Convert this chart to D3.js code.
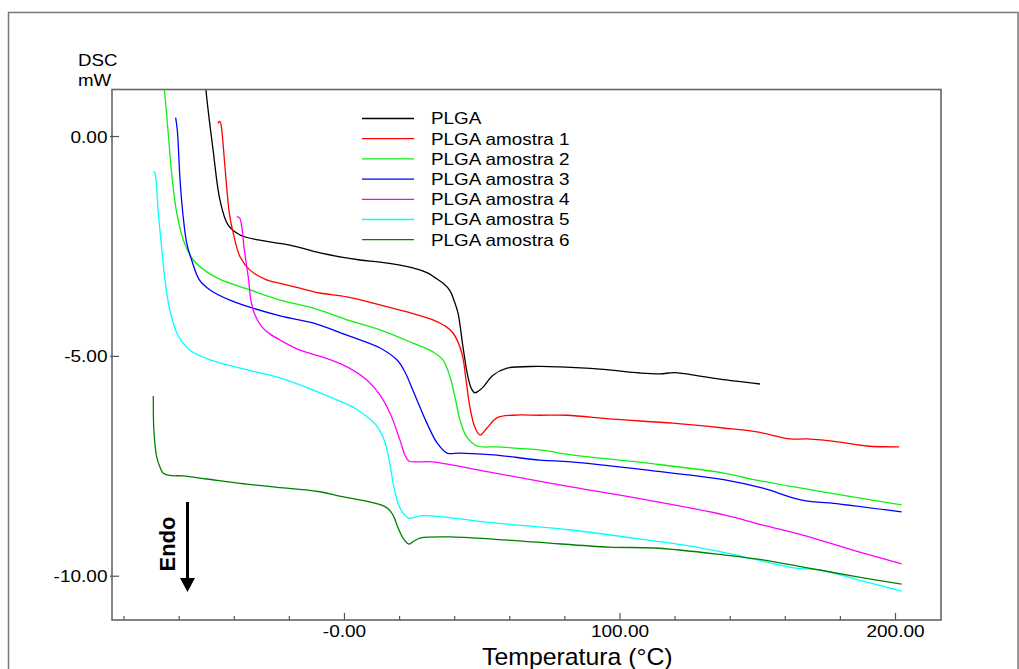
<!DOCTYPE html>
<html>
<head>
<meta charset="utf-8">
<script src="https://cdn.jsdelivr.net/npm/d3@7"></script>
<style>
  body { margin: 0; background: #fff; }
  text { font-family: "Liberation Sans", Arial, sans-serif; fill: #000; }
</style>
</head>
<body>
<div id="visualization"></div>
<script>
// DSC curves, temperature (°C) vs heat flow (mW)
const plga = [[-50.8,1.73],[-50.1,1.05],[-47.5,-0.32],[-45.0,-1.46],[-42.1,-2.02],[-37.7,-2.25],[-30.5,-2.37],[-19.6,-2.48],[-8.7,-2.66],[5.8,-2.82],[13.1,-2.87],[25.0,-3.00],[30.5,-3.12],[33.0,-3.22],[36.0,-3.35],[38.5,-3.52],[40.0,-3.75],[41.4,-4.03],[43.2,-4.80],[45.0,-5.48],[46.3,-5.75],[47.5,-5.84],[48.8,-5.80],[50.5,-5.71],[54.1,-5.44],[59.2,-5.28],[70,-5.24],[78.4,-5.25],[92.9,-5.30],[107.4,-5.39],[114.7,-5.41],[120.1,-5.38],[129.2,-5.46],[136.5,-5.53],[151.0,-5.64]];
const amostra1 = [[-45.8,0.29],[-45.0,0.33],[-44.5,0.21],[-43.8,-0.24],[-42.8,-1.00],[-41.6,-1.76],[-40.2,-2.21],[-37.7,-2.75],[-34.1,-3.05],[-28.1,-3.27],[-23.2,-3.35],[-16.0,-3.46],[-8.7,-3.57],[1.1,-3.66],[13.1,-3.84],[22.9,-4.00],[32.3,-4.18],[36.7,-4.32],[39.6,-4.48],[42.8,-4.94],[44.3,-5.55],[45.7,-6.16],[47.5,-6.62],[49.4,-6.80],[51.9,-6.64],[55.5,-6.41],[61.3,-6.35],[71.1,-6.35],[80.9,-6.35],[97.6,-6.44],[119.4,-6.53],[137.6,-6.64],[149.9,-6.73],[161.9,-6.89],[168.1,-6.89],[180.0,-6.96],[189.8,-7.05],[201.5,-7.07]];
const amostra2 = [[-66.1,1.73],[-65.2,1.05],[-64.4,0.52],[-63.4,-0.24],[-62.3,-1.00],[-60.7,-1.75],[-58.3,-2.37],[-54.7,-2.82],[-49.8,-3.09],[-45.0,-3.26],[-34.1,-3.50],[-23.2,-3.73],[-11.3,-3.91],[1.1,-4.18],[13.1,-4.41],[25.0,-4.71],[32.3,-4.91],[35.9,-5.09],[38.5,-5.48],[40.3,-5.94],[42.1,-6.46],[44.6,-6.85],[48.3,-7.05],[55.5,-7.07],[71.1,-7.14],[82.4,-7.25],[110.3,-7.44],[138.3,-7.67],[149.2,-7.82],[166.2,-8.01],[186.9,-8.23],[202.4,-8.39]];
const amostra3 = [[-61.1,0.42],[-60.5,0.14],[-59.5,-1.00],[-58.5,-1.75],[-57.1,-2.43],[-55.3,-2.82],[-52.5,-3.27],[-48.6,-3.50],[-41.4,-3.73],[-23.2,-4.09],[-11.3,-4.25],[1.1,-4.53],[13.1,-4.82],[19.2,-5.09],[22.0,-5.35],[25.0,-5.78],[30.1,-6.53],[33.8,-6.98],[37.4,-7.21],[42.1,-7.21],[54.4,-7.25],[71.1,-7.37],[82.4,-7.41],[110.3,-7.60],[138.3,-7.82],[152.1,-8.01],[166.2,-8.28],[180.0,-8.37],[202.4,-8.55]];
const amostra4 = [[-38.9,-1.84],[-38.0,-1.85],[-37.1,-2.06],[-36.3,-2.52],[-35.3,-2.97],[-34.6,-3.27],[-33.8,-3.73],[-32.3,-4.07],[-29.8,-4.34],[-26.9,-4.50],[-23.2,-4.64],[-16.0,-4.87],[-7.6,-5.03],[1.1,-5.25],[8.3,-5.55],[13.1,-5.89],[16.7,-6.30],[20.3,-6.91],[22.1,-7.25],[23.6,-7.39],[31.9,-7.41],[54.4,-7.66],[82.4,-7.98],[110.3,-8.28],[138.3,-8.62],[152.1,-8.85],[166.2,-9.07],[186.9,-9.46],[202.4,-9.73]];
const amostra5 = [[-69.2,-0.80],[-68.6,-0.85],[-67.4,-1.76],[-66.2,-2.52],[-65.0,-3.27],[-63.2,-3.96],[-60.3,-4.53],[-55.9,-4.87],[-48.6,-5.09],[-37.7,-5.28],[-23.2,-5.50],[-8.7,-5.84],[-1.5,-6.03],[4.0,-6.19],[8.0,-6.37],[11.6,-6.57],[13.8,-6.80],[15.2,-7.03],[16.7,-7.48],[18.1,-7.98],[19.6,-8.35],[21.4,-8.57],[23.6,-8.69],[27.6,-8.64],[31.9,-8.64],[54.4,-8.80],[82.4,-8.96],[110.3,-9.19],[129.8,-9.37],[145.2,-9.57],[163.3,-9.82],[173.1,-9.87],[186.9,-10.10],[202.4,-10.35]];
const amostra6 = [[-69.2,-5.91],[-69.0,-6.69],[-68.0,-7.29],[-66.8,-7.53],[-65.6,-7.67],[-63.2,-7.72],[-58.3,-7.73],[-49.8,-7.80],[-37.7,-7.90],[-25.8,-7.98],[-8.7,-8.09],[-1.5,-8.19],[15.2,-8.44],[17.8,-8.62],[19.5,-8.89],[21.4,-9.14],[23.6,-9.28],[25.4,-9.21],[27.9,-9.14],[40.3,-9.12],[68.2,-9.23],[96.2,-9.35],[112.9,-9.37],[138.3,-9.53],[152.1,-9.64],[166.2,-9.80],[186.9,-10.03],[202.4,-10.19]];

const seriesNames = ["PLGA", "PLGA amostra 1", "PLGA amostra 2", "PLGA amostra 3", "PLGA amostra 4", "PLGA amostra 5", "PLGA amostra 6"];
const seriesColors = ["#000000", "#ff0000", "#11ee11", "#0000ff", "#ff00ff", "#00ffff", "#008000"];
const seriesData = [plga, amostra1, amostra2, amostra3, amostra4, amostra5, amostra6];

const xMajorTicks = [0, 100, 200];
const xMinorTicks = [-80, -60, -40, -20, 20, 40, 60, 80, 120, 140, 160, 180];
const yTicks = [0, -5, -10];

function drawChart() {
    const width = 1019;
    const height = 669;
    const plot = { left: 112, right: 941, top: 89.5, bottom: 620 };

    const svg = d3.select("#visualization")
        .append("svg")
        .attr("width", width)
        .attr("height", height);

    // outer frame
    svg.append("rect")
        .attr("x", 8.5).attr("y", 12.5)
        .attr("width", 1009.5).attr("height", 700)
        .attr("fill", "none").attr("stroke", "#777").attr("stroke-width", 1.5);

    const x = d3.scaleLinear().domain([-84.2, 216.7]).range([plot.left, plot.right]);
    const y = d3.scaleLinear().domain([-11.007, 1.058]).range([plot.bottom, plot.top]);

    svg.append("clipPath").attr("id", "plotClip")
        .append("rect")
        .attr("x", plot.left).attr("y", plot.top)
        .attr("width", plot.right - plot.left).attr("height", plot.bottom - plot.top);

    // curves
    const line = d3.line()
        .x(d => x(d[0]))
        .y(d => y(d[1]))
        .curve(d3.curveCatmullRom.alpha(0.5));

    svg.append("g").attr("clip-path", "url(#plotClip)")
        .selectAll("path")
        .data(seriesData)
        .join("path")
        .attr("d", line)
        .attr("fill", "none")
        .attr("stroke", (d, i) => seriesColors[i])
        .attr("stroke-width", 1.3);

    // plot frame
    svg.append("rect")
        .attr("x", plot.left).attr("y", plot.top)
        .attr("width", plot.right - plot.left).attr("height", plot.bottom - plot.top)
        .attr("fill", "none").attr("stroke", "#666").attr("stroke-width", 1.6);

    // number format with a plain hyphen as minus sign
    const num = d => d3.format(".2f")(d).replace("\u2212", "-");

    // x axis: ticks point into the plot
    const xMajor = svg.append("g")
        .attr("transform", `translate(0,${plot.bottom})`)
        .call(d3.axisBottom(x).tickValues(xMajorTicks).tickSizeInner(-7).tickSizeOuter(0).tickPadding(5)
            .tickFormat(d => d === 0 ? "-0.00" : num(d)));
    svg.append("g")
        .attr("transform", `translate(0,${plot.bottom})`)
        .call(d3.axisBottom(x).tickValues(xMinorTicks).tickSizeInner(-4).tickSizeOuter(0).tickFormat(""));

    // y axis
    const yAxis = svg.append("g")
        .attr("transform", `translate(${plot.left},0)`)
        .call(d3.axisLeft(y).tickValues(yTicks).tickSizeInner(-7).tickSizeOuter(0).tickPadding(4).tickFormat(num));
    yAxis.selectAll(".tick line").attr("x1", -2);

    svg.selectAll(".domain").remove();
    svg.selectAll(".tick line").attr("stroke", "#555").attr("stroke-width", 1.2);
    svg.selectAll(".tick text")
        .attr("font-size", 17)
        .attr("font-family", "Liberation Sans, Arial, sans-serif")
        .attr("fill", "#111");
    xMajor.selectAll(".tick text").attr("transform", "scale(1.12,1)");
    yAxis.selectAll(".tick text").attr("transform", "scale(1.12,1)").attr("dy", "0.36em");

    // axis labels
    svg.append("text").attr("transform", "translate(78,66) scale(1.1,1)")
        .attr("font-size", 17).text("DSC");
    svg.append("text").attr("transform", "translate(78,86) scale(1.1,1)")
        .attr("font-size", 17).text("mW");
    svg.append("text").attr("transform", "translate(482,665) scale(1.08,1)")
        .attr("font-size", 23).text("Temperatura (°C)");

    // legend
    const legend = svg.append("g");
    seriesNames.forEach((name, i) => {
        const ly = 118.5 + i * 20.2;
        legend.append("line")
            .attr("x1", 362).attr("x2", 414)
            .attr("y1", ly).attr("y2", ly)
            .attr("stroke", seriesColors[i]).attr("stroke-width", 1.3);
        legend.append("text")
            .attr("transform", `translate(431,${ly + 5.8}) scale(1.18,1)`)
            .attr("font-size", 16)
            .text(name);
    });

    // Endo arrow
    svg.append("text")
        .attr("transform", "translate(175,544) rotate(-90)")
        .attr("text-anchor", "middle")
        .attr("font-size", 22).attr("font-weight", "bold")
        .text("Endo");
    svg.append("line")
        .attr("x1", 187.5).attr("x2", 187.5).attr("y1", 502).attr("y2", 580)
        .attr("stroke", "#000").attr("stroke-width", 3);
    svg.append("path")
        .attr("d", d3.line()([[180, 578], [195, 578], [187.5, 592]]))
        .attr("fill", "#000");
}

drawChart();
</script>
</body>
</html>
